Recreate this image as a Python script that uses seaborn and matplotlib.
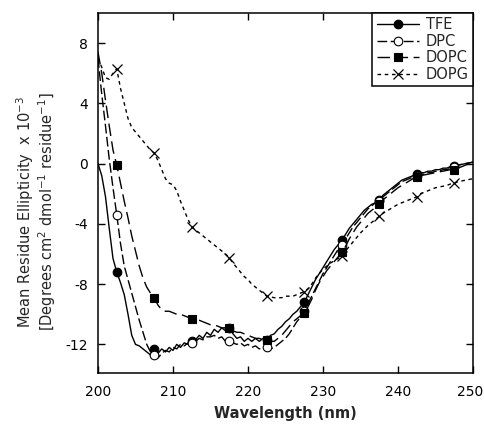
import numpy as np
import matplotlib
matplotlib.use("Agg")
import matplotlib.pyplot as plt
import matplotlib.transforms as mtransforms
import seaborn as sns

# ---------------- data ----------------
wavelength = np.arange(200.0, 250.01, 0.5)
marker_wl = [202.5, 207.5, 212.5, 217.5, 222.5, 227.5, 232.5, 237.5, 242.5, 247.5]
series_names = ["TFE", "DPC", "DOPC", "DOPG"]

tfe = [0.0, -0.8, -2.2, -4.3, -6.3, -7.2, -7.9, -8.7, -10.0, -11.4,
       -12.0, -12.1, -12.3, -12.5, -12.7, -12.3, -12.6, -12.3, -12.5, -12.2,
       -12.4, -12.0, -12.2, -11.9, -12.0, -11.8, -11.7, -11.4, -11.6, -11.2,
       -11.4, -11.0, -11.2, -10.9, -11.1, -10.9, -11.3, -11.6, -11.5, -11.8,
       -11.6, -11.8, -11.6, -11.8, -11.6, -11.7, -11.4, -11.3, -11.0, -10.8,
       -10.5, -10.3, -10.0, -9.8, -9.5, -9.2, -8.7, -8.2, -7.7, -7.3,
       -6.9, -6.5, -6.1, -5.7, -5.4, -5.1, -4.7, -4.3, -4.0, -3.7,
       -3.4, -3.1, -2.9, -2.7, -2.6, -2.4, -2.1, -1.9, -1.7, -1.5,
       -1.3, -1.1, -1.0, -0.9, -0.8, -0.7, -0.6, -0.6, -0.5, -0.5,
       -0.4, -0.4, -0.3, -0.3, -0.2, -0.15, -0.1, -0.05, 0.0, 0.05,
       0.1]

dpc = [7.0, 4.6, 2.5, 0.3, -1.6, -3.4, -5.3, -6.8, -7.7, -8.6,
       -9.5, -10.4, -11.2, -12.0, -12.5, -12.7, -12.9, -12.6, -12.4, -12.5,
       -12.2, -12.3, -12.0, -12.1, -11.9, -11.9, -11.8, -11.6, -11.7, -11.5,
       -11.5, -11.4, -11.6, -11.5, -11.8, -11.8, -11.9, -12.0, -11.9, -12.1,
       -12.0, -12.2, -12.1, -12.3, -12.2, -12.2, -12.3, -12.2, -12.0, -11.8,
       -11.6, -11.3, -10.9, -10.5, -10.2, -9.8, -9.3, -8.8, -8.3, -7.8,
       -7.3, -6.9, -6.5, -6.1, -5.7, -5.4, -5.0, -4.6, -4.2, -3.9,
       -3.6, -3.3, -3.0, -2.8, -2.6, -2.5, -2.2, -2.0, -1.8, -1.6,
       -1.4, -1.2, -1.1, -1.0, -0.9, -0.8, -0.7, -0.7, -0.6, -0.6,
       -0.5, -0.5, -0.4, -0.4, -0.3, -0.2, -0.1, -0.05, 0.0, 0.05,
       0.1]

dopc = [7.4, 6.0, 4.2, 2.5, 0.9, -0.1, -1.3, -2.5, -3.6, -4.8,
        -5.8, -6.8, -7.6, -8.2, -8.6, -8.9, -9.4, -9.7, -9.8, -9.8,
        -9.9, -10.0, -10.0, -10.1, -10.2, -10.3, -10.4, -10.4, -10.5, -10.6,
        -10.7, -10.7, -10.8, -10.9, -10.9, -10.9, -11.1, -11.2, -11.2, -11.3,
        -11.4, -11.5, -11.6, -11.6, -11.7, -11.7, -11.8, -11.8, -11.6, -11.4,
        -11.1, -10.8, -10.5, -10.3, -10.1, -9.9, -9.5, -9.0, -8.4, -7.9,
        -7.5, -7.1, -6.8, -6.5, -6.2, -5.9, -5.5, -5.0, -4.6, -4.2,
        -3.9, -3.6, -3.3, -3.1, -2.9, -2.7, -2.4, -2.2, -2.0, -1.8,
        -1.6, -1.45, -1.3, -1.15, -1.0, -0.9, -0.8, -0.75, -0.7, -0.65,
        -0.6, -0.55, -0.5, -0.45, -0.4, -0.4, -0.3, -0.2, -0.1, 0.0,
        0.1]

dopg = [7.0, 6.4, 5.7, 5.6, 6.0, 6.3, 5.0, 4.0, 3.0, 2.4,
        2.1, 1.8, 1.5, 1.2, 0.9, 0.7, 0.2, -0.4, -1.0, -1.3,
        -1.4, -1.8, -2.5, -3.1, -3.7, -4.2, -4.4, -4.6, -4.8, -5.0,
        -5.2, -5.4, -5.6, -5.8, -6.0, -6.25, -6.6, -6.9, -7.2, -7.5,
        -7.7, -8.0, -8.2, -8.4, -8.6, -8.8, -8.85, -8.9, -8.9, -8.9,
        -8.8, -8.8, -8.8, -8.7, -8.6, -8.5, -8.3, -8.0, -7.6, -7.3,
        -7.0, -6.8, -6.6, -6.45, -6.3, -6.15, -5.8, -5.5, -5.2, -4.9,
        -4.6, -4.35, -4.1, -3.9, -3.7, -3.5, -3.3, -3.15, -3.0, -2.85,
        -2.7, -2.6, -2.5, -2.4, -2.3, -2.2, -2.0, -1.9, -1.8, -1.7,
        -1.6, -1.55, -1.5, -1.45, -1.35, -1.3, -1.2, -1.15, -1.1, -1.05,
        -1.0]

x_ticks = [200, 210, 220, 230, 240, 250]
y_ticks = [-12, -8, -4, 0, 4, 8]

# ---------------- styling ----------------
sns.set_style("ticks")
plt.rcParams["font.family"] = ["DejaVu Sans"]
plt.rcParams["mathtext.fontset"] = "dejavusans"

fig = plt.figure(figsize=(4.84, 4.25), dpi=100)
ax = fig.add_axes([98 / 484, 1 - 373 / 425, (473 - 98) / 484, (373 - 13) / 425])

mk = list(np.where(np.isin(wavelength, marker_wl))[0])

styles = {
    "TFE":  dict(linestyle="-", marker="o", ms=6.2, mfc="black", mec="black", mew=0.8),
    "DPC":  dict(linestyle=(0, (7, 2.5)), marker="o", ms=6.2, mfc="white", mec="black", mew=0.8),
    "DOPC": dict(linestyle=(0, (9, 4)), marker="s", ms=6.4, mfc="black", mec="black", mew=0.8),
    "DOPG": dict(linestyle=(0, (2.6, 2.6)), marker="x", ms=6.8, mfc="black", mec="black", mew=0.9),
}
values = {"TFE": tfe, "DPC": dpc, "DOPC": dopc, "DOPG": dopg}

for name in series_names:
    sns.lineplot(x=wavelength, y=np.array(values[name]), ax=ax, color="black",
                 lw=1.0, estimator=None, sort=False, markevery=mk,
                 label=name, **styles[name])

ax.set_xlim(200, 250)
ax.set_ylim(-13.9, 10.0)
ax.set_xticks(x_ticks)
ax.set_yticks(y_ticks)
ax.set_xticklabels([str(v) for v in x_ticks])
ax.set_yticklabels([str(v) for v in y_ticks])

for s in ax.spines.values():
    s.set_visible(True)
    s.set_linewidth(1.1)
    s.set_color("black")

ax.tick_params(axis="both", which="major", direction="in", length=5, width=1.0,
               top=True, right=True, labelsize=10, colors="black")
ax.tick_params(axis="x", pad=9)
ax.tick_params(axis="y", pad=7)

# nudge the last x tick label slightly left so it stays inside the canvas
last = ax.get_xticklabels()[-1]
last.set_transform(last.get_transform() +
                   mtransforms.ScaledTranslation(-3 / 100, 0, fig.dpi_scale_trans))

ax.set_xlabel("Wavelength (nm)", fontsize=10.5, fontweight="bold", labelpad=5)
ax.set_ylabel("")

fig.text(25 / 484, 1 - 212 / 425, r"Mean Residue Ellipticity  x 10$^{-3}$",
         rotation=90, ha="center", va="center", fontsize=10.5)
fig.text(47 / 484, 1 - 212 / 425,
         r"[Degrees cm$^{2}$ dmol$^{-1}$ residue$^{-1}$]",
         rotation=90, ha="center", va="center", fontsize=10.5)

leg = ax.legend(loc="upper right", frameon=True, fancybox=False, edgecolor="black",
                borderaxespad=0.0, handlelength=2.9, handletextpad=0.45,
                labelspacing=0.1, borderpad=0.3, fontsize=10.5, framealpha=1)
leg.get_frame().set_linewidth(1.1)

fig.savefig("out.png", dpi=100)
